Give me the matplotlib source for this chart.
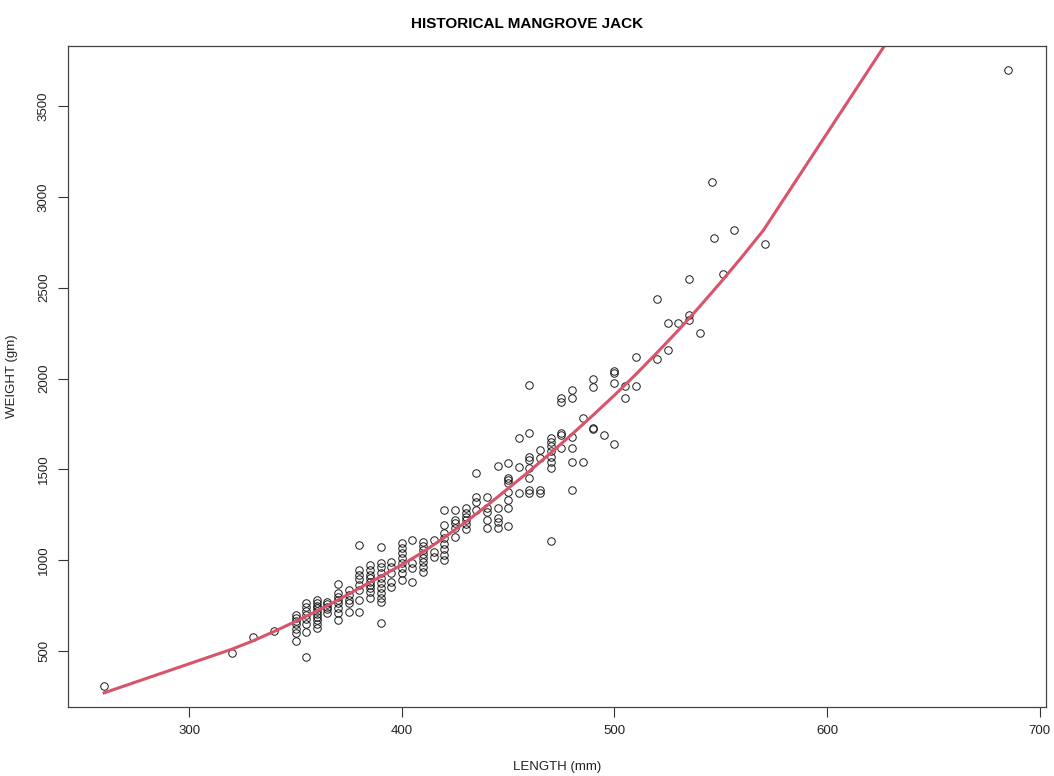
import matplotlib.pyplot as plt

# scatter data
length_mm = [260, 320, 330, 340,
             350, 350, 350, 350, 350, 350, 350,
             355, 355, 355, 355, 355, 355, 355, 355,
             360, 360, 360, 360, 360, 360, 360, 360, 360, 360,
             365, 365, 365, 365, 365,
             370, 370, 370, 370, 370, 370, 370, 370,
             375, 375, 375, 375, 375,
             380, 380, 380, 380, 380, 380, 380, 380,
             385, 385, 385, 385, 385, 385, 385, 385, 385,
             390, 390, 390, 390, 390, 390, 390, 390, 390, 390, 390,
             395, 395, 395, 395, 395,
             400, 400, 400, 400, 400, 400, 400, 400,
             405, 405, 405, 405,
             410, 410, 410, 410, 410, 410, 410, 410,
             415, 415, 415,
             420, 420, 420, 420, 420, 420, 420, 420,
             425, 425, 425, 425, 425,
             430, 430, 430, 430, 430, 430,
             435, 435, 435, 435,
             440, 440, 440, 440, 440,
             445, 445, 445, 445, 445,
             450, 450, 450, 450, 450, 450, 450, 450,
             455, 455, 455,
             460, 460, 460, 460, 460, 460, 460, 460,
             465, 465, 465, 465,
             470, 470, 470, 470, 470, 470, 470, 470,
             475, 475, 475, 475, 475,
             480, 480, 480, 480, 480, 480,
             485, 485,
             490, 490, 490, 490,
             495, 500, 500, 500, 500, 505, 505, 510, 510,
             520, 520, 525, 525, 530, 535, 535, 535, 540,
             546, 547, 551, 556, 571, 685]
weight_gm = [305, 490, 580, 610,
             700, 680, 665, 650, 620, 600, 555,
             765, 740, 720, 700, 675, 650, 605, 467,
             780, 765, 750, 735, 720, 705, 690, 670, 650, 625,
             770, 760, 740, 730, 710,
             870, 820, 800, 780, 765, 735, 710, 670,
             835, 810, 780, 765, 715,
             1085, 945, 920, 895, 865, 835, 780, 715,
             975, 945, 920, 900, 880, 865, 845, 825, 790,
             1072, 985, 960, 930, 900, 875, 845, 820, 790, 770, 655,
             990, 960, 930, 880, 850,
             1095, 1065, 1040, 1010, 985, 955, 930, 890,
             1110, 985, 955, 880,
             1100, 1080, 1055, 1035, 1010, 990, 965, 935,
             1110, 1045, 1015,
             1275, 1195, 1150, 1120, 1090, 1060, 1030, 1000,
             1275, 1220, 1205, 1175, 1125,
             1290, 1260, 1240, 1220, 1200, 1170,
             1480, 1350, 1320, 1275,
             1350, 1290, 1265, 1220, 1180,
             1520, 1290, 1235, 1210, 1180,
             1535, 1455, 1440, 1425, 1375, 1330, 1290, 1190,
             1670, 1515, 1370,
             1964, 1700, 1570, 1550, 1505, 1450, 1385, 1370,
             1605, 1560, 1385, 1370,
             1670, 1650, 1630, 1600, 1570, 1540, 1510, 1105,
             1890, 1870, 1700, 1690, 1620,
             1935, 1890, 1680, 1620, 1540, 1385,
             1780, 1540,
             2000, 1955, 1730, 1720,
             1690, 2040, 2030, 1975, 1640, 1960, 1890, 2120, 1960,
             2440, 2105, 2305, 2155, 2305, 2350, 2320, 2545, 2250,
             3080, 2775, 2575, 2820, 2740, 3700]

# fitted weight-length curve, read at the sorted lengths
fit_length = [260, 320, 330, 340, 350, 360, 370, 380, 390, 400, 410, 420,
              430, 440, 450, 460, 470, 480, 490, 500, 510, 520, 530, 540,
              550, 560, 570, 685]
fit_weight = [270, 510, 556, 608, 663, 720, 781, 846, 910, 975, 1045, 1125,
              1210, 1300, 1395, 1490, 1590, 1693, 1799, 1908, 2022, 2142, 2265, 2395,
              2530, 2670, 2815, 4866]

plt.rcParams['font.family'] = ['Liberation Sans', 'DejaVu Sans']

fig = plt.figure(figsize=(10.54, 7.76), dpi=100)
ax = fig.add_axes([0.0645, 0.0889, 0.928, 0.8518])

ax.plot(length_mm, weight_gm, linestyle='none', marker='o', markersize=5.4,
        markerfacecolor='none', markeredgecolor='#1a1a1a', markeredgewidth=0.7)
ax.plot(fit_length, fit_weight, color='#D9536B', linewidth=2.2)

ax.set_xlim(243, 703)
ax.set_ylim(192, 3830)
ax.set_xticks([300, 400, 500, 600, 700])
ax.set_yticks([500, 1000, 1500, 2000, 2500, 3000, 3500])
ax.tick_params(axis='both', length=7, width=0.8, labelsize=9.5, pad=6,
               colors='#333333', labelcolor='#222222')
for lab in ax.get_yticklabels():
    lab.set_rotation(90)
    lab.set_verticalalignment('center')

for sp in ax.spines.values():
    sp.set_linewidth(0.9)
    sp.set_color('#444444')

ax.set_xlabel('LENGTH (mm)', fontsize=9.5, labelpad=17, color='#222222')
ax.set_ylabel('WEIGHT (gm)', fontsize=9.5, labelpad=14, color='#222222')
fig.suptitle('HISTORICAL MANGROVE JACK', fontsize=11, fontweight='bold', y=0.978)

plt.savefig('out.png', dpi=100)
plt.close()
